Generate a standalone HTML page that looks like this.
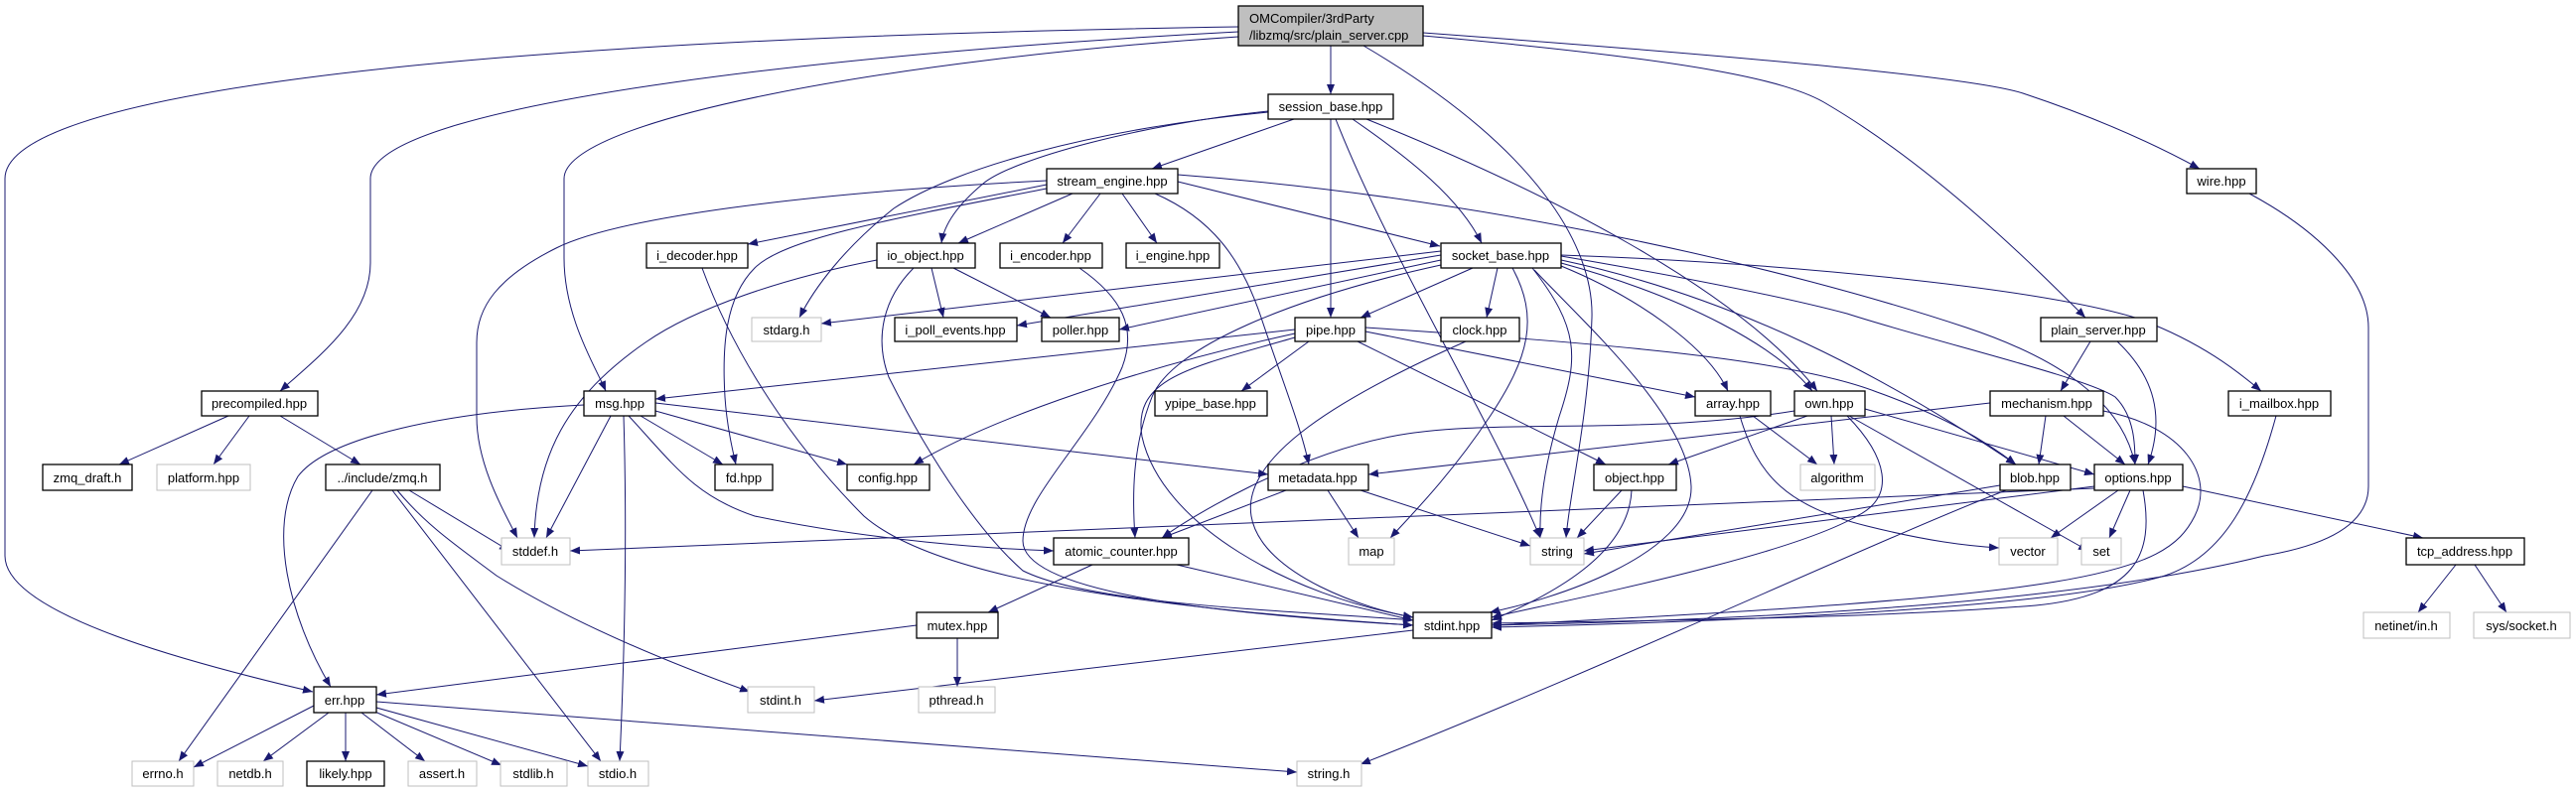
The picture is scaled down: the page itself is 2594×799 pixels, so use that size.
<!DOCTYPE html>
<html><head><meta charset="utf-8"><style>
html,body{margin:0;padding:0;background:#fff;}
svg{display:block;}
text{font-family:"Liberation Sans",Arial,sans-serif;font-size:13px;fill:#000;}
.n{fill:#fff;stroke:#000;stroke-width:1.3;}
.g{fill:#fff;stroke:#bfbfbf;stroke-width:1;}
.e{fill:none;stroke:#191970;stroke-width:1;marker-end:url(#a);}
</style></head><body>
<svg width="2594" height="799" viewBox="0 0 2594 799" xmlns="http://www.w3.org/2000/svg">
<defs><marker id="a" viewBox="0 0 10 10" refX="10" refY="5" markerWidth="10" markerHeight="10" markerUnits="userSpaceOnUse" orient="auto"><path d="M0,1 L10,5 L0,9 z" fill="#191970"/></marker></defs>
<g>
<path class="e" d="M1340,46 L1340,95"/>
<path class="e" d="M1247,27 C400,40 5,100 5,180 L5,560 C5,620 200,670 315,697"/>
<path class="e" d="M1247,32 C900,50 373,100 373,180 L373,265 C373,320 320,360 282,394"/>
<path class="e" d="M1247,37 C900,60 568,120 568,180 L568,260 C568,320 600,370 610,394"/>
<path class="e" d="M1373,46 C1550,150 1605,250 1603,320 C1600,420 1580,500 1577,542"/>
<path class="e" d="M1433,33 C1800,60 2000,80 2040,95 C2100,115 2160,140 2215,170"/>
<path class="e" d="M1433,36 C1700,60 1800,80 1840,105 C1950,170 2050,270 2100,320"/>
<path class="e" d="M1303,120 L1160,170"/>
<path class="e" d="M1277,112 C1150,125 1020,160 990,185 C960,210 950,230 948,245"/>
<path class="e" d="M1277,113 C1100,130 960,170 900,210 C850,250 820,290 805,320"/>
<path class="e" d="M1340,120 L1340,320"/>
<path class="e" d="M1345,120 C1400,260 1500,420 1551,542"/>
<path class="e" d="M1362,120 C1420,160 1470,200 1492,245"/>
<path class="e" d="M1376,120 C1550,190 1750,290 1830,394"/>
<path class="e" d="M1054,182 C800,195 620,220 560,250 C500,280 480,310 480,345 L480,420 C480,470 510,520 521,542"/>
<path class="e" d="M1054,190 C900,220 790,240 760,270 C730,300 727,350 730,400 C732,430 738,455 741,468"/>
<path class="e" d="M1054,186 L753,246"/>
<path class="e" d="M1080,195 L965,245"/>
<path class="e" d="M1108,195 L1070,245"/>
<path class="e" d="M1130,195 L1165,245"/>
<path class="e" d="M1163,195 C1220,220 1250,260 1270,320 C1290,380 1310,430 1318,468"/>
<path class="e" d="M1186,183 L1450,248"/>
<path class="e" d="M1186,176 C1500,200 1800,270 1980,330 C2100,370 2140,420 2150,468"/>
<path class="e" d="M883,262 C790,280 700,310 650,345 C570,400 540,460 538,542"/>
<path class="e" d="M938,270 L950,320"/>
<path class="e" d="M960,270 L1058,320"/>
<path class="e" d="M920,270 C890,300 880,340 895,380 C940,470 990,540 1030,575 C1100,610 1300,615 1423,625"/>
<path class="e" d="M707,270 C740,360 800,450 870,520 C950,590 1200,615 1423,630"/>
<path class="e" d="M1087,270 C1130,300 1145,330 1130,370 C1100,440 1030,500 1030,545 C1030,600 1250,620 1423,630"/>
<path class="e" d="M1451,257 L1024,328"/>
<path class="e" d="M1451,262 L1127,332"/>
<path class="e" d="M1451,253 L827,326"/>
<path class="e" d="M1483,270 L1370,320"/>
<path class="e" d="M1451,267 C1300,300 1180,350 1160,400 C1140,450 1140,500 1143,542"/>
<path class="e" d="M1508,270 L1497,320"/>
<path class="e" d="M1523,270 C1550,320 1540,360 1500,420 C1460,480 1420,520 1400,542"/>
<path class="e" d="M1543,270 C1590,330 1590,360 1570,420 C1555,470 1550,510 1551,542"/>
<path class="e" d="M1545,272 C1600,330 1700,420 1703,490 C1705,560 1560,605 1500,617"/>
<path class="e" d="M1572,268 C1650,300 1720,350 1740,394"/>
<path class="e" d="M1572,265 C1700,300 1790,350 1825,394"/>
<path class="e" d="M1572,262 C1750,300 1900,380 2030,468"/>
<path class="e" d="M1572,258 C1700,280 1800,300 1860,316 C1950,345 2100,380 2130,400 C2150,420 2150,450 2150,468"/>
<path class="e" d="M1572,257 C1800,265 2050,290 2150,320 C2220,345 2260,380 2277,394"/>
<path class="e" d="M1304,332 L660,402"/>
<path class="e" d="M1304,336 C1150,370 1000,420 920,468"/>
<path class="e" d="M1318,344 L1250,394"/>
<path class="e" d="M1304,340 C1200,370 1140,380 1150,440 C1170,530 1300,600 1423,622"/>
<path class="e" d="M1375,334 L1707,400"/>
<path class="e" d="M1367,344 L1617,468"/>
<path class="e" d="M1375,330 C1600,345 1800,360 1890,395 C1960,420 2000,445 2030,468"/>
<path class="e" d="M1476,344 C1350,400 1250,460 1260,520 C1270,580 1380,615 1423,622"/>
<path class="e" d="M588,408 C450,415 330,440 300,480 C270,530 290,620 333,692"/>
<path class="e" d="M615,419 L550,542"/>
<path class="e" d="M628,419 C632,550 628,680 624,767"/>
<path class="e" d="M645,419 L728,468"/>
<path class="e" d="M660,414 L853,468"/>
<path class="e" d="M660,406 L1277,478"/>
<path class="e" d="M633,419 C680,470 700,500 760,520 C880,545 1000,553 1061,555"/>
<path class="e" d="M230,419 L120,468"/>
<path class="e" d="M251,419 L215,468"/>
<path class="e" d="M282,419 L363,468"/>
<path class="e" d="M412,494 L513,555"/>
<path class="e" d="M375,494 L180,767"/>
<path class="e" d="M395,494 L605,767"/>
<path class="e" d="M400,494 C430,530 460,550 500,580 C580,630 680,670 755,697"/>
<path class="e" d="M316,711 L195,773"/>
<path class="e" d="M331,718 L265,767"/>
<path class="e" d="M348,718 L348,767"/>
<path class="e" d="M364,718 L428,767"/>
<path class="e" d="M375,716 L505,771"/>
<path class="e" d="M379,713 L592,772"/>
<path class="e" d="M379,707 L1306,778"/>
<path class="e" d="M923,630 L379,700"/>
<path class="e" d="M964,643 L964,692"/>
<path class="e" d="M1100,569 L995,617"/>
<path class="e" d="M1185,569 L1423,625"/>
<path class="e" d="M1295,494 L1170,542"/>
<path class="e" d="M1337,494 L1368,542"/>
<path class="e" d="M1370,494 L1541,550"/>
<path class="e" d="M1423,635 L820,706"/>
<path class="e" d="M1633,494 L1588,542"/>
<path class="e" d="M1643,494 C1640,560 1560,600 1502,625"/>
<path class="e" d="M1844,419 L1847,468"/>
<path class="e" d="M1820,419 L1680,468"/>
<path class="e" d="M1862,419 L2103,555"/>
<path class="e" d="M1878,412 L2109,478"/>
<path class="e" d="M1807,414 C1650,440 1500,420 1400,440 C1300,460 1200,520 1170,542"/>
<path class="e" d="M1860,419 C1900,460 1910,500 1870,520 C1800,560 1600,600 1502,622"/>
<path class="e" d="M1765,419 L1830,468"/>
<path class="e" d="M1752,419 C1770,480 1800,510 1880,530 C1940,545 1980,550 2013,552"/>
<path class="e" d="M2004,406 L1378,478"/>
<path class="e" d="M2060,419 L2053,468"/>
<path class="e" d="M2078,419 L2140,468"/>
<path class="e" d="M2118,414 C2200,430 2230,480 2210,520 C2180,580 2100,600 1502,630"/>
<path class="e" d="M2105,344 L2075,394"/>
<path class="e" d="M2132,344 C2170,380 2180,420 2163,468"/>
<path class="e" d="M2292,419 C2270,500 2240,560 2180,580 C2080,610 1800,625 1502,632"/>
<path class="e" d="M2265,195 C2330,230 2385,280 2385,330 L2385,490 C2385,530 2340,550 2280,560 C2200,580 2000,620 1502,630"/>
<path class="e" d="M2014,489 L1595,558"/>
<path class="e" d="M2020,494 C1900,540 1600,680 1370,770"/>
<path class="e" d="M2109,492 L574,555"/>
<path class="e" d="M2109,490 L1595,555"/>
<path class="e" d="M2133,494 L2065,542"/>
<path class="e" d="M2145,494 L2124,542"/>
<path class="e" d="M2158,494 C2170,560 2150,600 2050,610 C1900,622 1700,625 1502,628"/>
<path class="e" d="M2198,490 L2440,542"/>
<path class="e" d="M2473,569 L2435,617"/>
<path class="e" d="M2492,569 L2524,617"/>
</g>
<g>
<rect x="1247" y="6" width="186" height="40" fill="#bfbfbf" stroke="#000" stroke-width="1.3"/>
<text x="1258" y="23">OMCompiler/3rdParty</text><text x="1258" y="40">/libzmq/src/plain_server.cpp</text>
</g>
<g>
<rect class="n" x="1277" y="95" width="126" height="25"/><text x="1340" y="112" text-anchor="middle">session_base.hpp</text>
<rect class="n" x="1054" y="170" width="132" height="25"/><text x="1120" y="187" text-anchor="middle">stream_engine.hpp</text>
<rect class="n" x="2202" y="170" width="70" height="25"/><text x="2237" y="187" text-anchor="middle">wire.hpp</text>
<rect class="n" x="651" y="245" width="102" height="25"/><text x="702" y="262" text-anchor="middle">i_decoder.hpp</text>
<rect class="n" x="883" y="245" width="99" height="25"/><text x="932" y="262" text-anchor="middle">io_object.hpp</text>
<rect class="n" x="1007" y="245" width="103" height="25"/><text x="1058" y="262" text-anchor="middle">i_encoder.hpp</text>
<rect class="n" x="1134" y="245" width="94" height="25"/><text x="1181" y="262" text-anchor="middle">i_engine.hpp</text>
<rect class="n" x="1451" y="245" width="121" height="25"/><text x="1511" y="262" text-anchor="middle">socket_base.hpp</text>
<rect class="g" x="757" y="320" width="70" height="24"/><text x="792" y="337" text-anchor="middle">stdarg.h</text>
<rect class="n" x="901" y="320" width="123" height="24"/><text x="962" y="337" text-anchor="middle">i_poll_events.hpp</text>
<rect class="n" x="1049" y="320" width="78" height="24"/><text x="1088" y="337" text-anchor="middle">poller.hpp</text>
<rect class="n" x="1304" y="320" width="71" height="24"/><text x="1340" y="337" text-anchor="middle">pipe.hpp</text>
<rect class="n" x="1451" y="320" width="79" height="24"/><text x="1490" y="337" text-anchor="middle">clock.hpp</text>
<rect class="n" x="2055" y="320" width="117" height="24"/><text x="2113" y="337" text-anchor="middle">plain_server.hpp</text>
<rect class="n" x="203" y="394" width="117" height="25"/><text x="261" y="411" text-anchor="middle">precompiled.hpp</text>
<rect class="n" x="588" y="394" width="72" height="25"/><text x="624" y="411" text-anchor="middle">msg.hpp</text>
<rect class="n" x="1163" y="394" width="113" height="25"/><text x="1219" y="411" text-anchor="middle">ypipe_base.hpp</text>
<rect class="n" x="1707" y="394" width="76" height="25"/><text x="1745" y="411" text-anchor="middle">array.hpp</text>
<rect class="n" x="1807" y="394" width="71" height="25"/><text x="1842" y="411" text-anchor="middle">own.hpp</text>
<rect class="n" x="2004" y="394" width="114" height="25"/><text x="2061" y="411" text-anchor="middle">mechanism.hpp</text>
<rect class="n" x="2244" y="394" width="103" height="25"/><text x="2295" y="411" text-anchor="middle">i_mailbox.hpp</text>
<rect class="n" x="43" y="468" width="90" height="26"/><text x="88" y="486" text-anchor="middle">zmq_draft.h</text>
<rect class="g" x="158" y="468" width="94" height="26"/><text x="205" y="486" text-anchor="middle">platform.hpp</text>
<rect class="n" x="328" y="468" width="115" height="26"/><text x="385" y="486" text-anchor="middle">../include/zmq.h</text>
<rect class="n" x="720" y="468" width="58" height="26"/><text x="749" y="486" text-anchor="middle">fd.hpp</text>
<rect class="n" x="853" y="468" width="83" height="26"/><text x="894" y="486" text-anchor="middle">config.hpp</text>
<rect class="n" x="1277" y="468" width="101" height="26"/><text x="1327" y="486" text-anchor="middle">metadata.hpp</text>
<rect class="n" x="1605" y="468" width="83" height="26"/><text x="1646" y="486" text-anchor="middle">object.hpp</text>
<rect class="g" x="1813" y="468" width="75" height="26"/><text x="1850" y="486" text-anchor="middle">algorithm</text>
<rect class="n" x="2014" y="468" width="71" height="26"/><text x="2049" y="486" text-anchor="middle">blob.hpp</text>
<rect class="n" x="2109" y="468" width="89" height="26"/><text x="2153" y="486" text-anchor="middle">options.hpp</text>
<rect class="g" x="505" y="542" width="69" height="27"/><text x="539" y="560" text-anchor="middle">stddef.h</text>
<rect class="n" x="1061" y="542" width="136" height="27"/><text x="1129" y="560" text-anchor="middle">atomic_counter.hpp</text>
<rect class="g" x="1358" y="542" width="46" height="27"/><text x="1381" y="560" text-anchor="middle">map</text>
<rect class="g" x="1541" y="542" width="54" height="27"/><text x="1568" y="560" text-anchor="middle">string</text>
<rect class="g" x="2013" y="542" width="59" height="27"/><text x="2042" y="560" text-anchor="middle">vector</text>
<rect class="g" x="2096" y="542" width="40" height="27"/><text x="2116" y="560" text-anchor="middle">set</text>
<rect class="n" x="2423" y="542" width="119" height="27"/><text x="2482" y="560" text-anchor="middle">tcp_address.hpp</text>
<rect class="n" x="923" y="617" width="82" height="26"/><text x="964" y="635" text-anchor="middle">mutex.hpp</text>
<rect class="n" x="1423" y="617" width="79" height="26"/><text x="1462" y="635" text-anchor="middle">stdint.hpp</text>
<rect class="g" x="2380" y="617" width="87" height="26"/><text x="2423" y="635" text-anchor="middle">netinet/in.h</text>
<rect class="g" x="2491" y="617" width="97" height="26"/><text x="2539" y="635" text-anchor="middle">sys/socket.h</text>
<rect class="n" x="316" y="692" width="63" height="26"/><text x="347" y="710" text-anchor="middle">err.hpp</text>
<rect class="g" x="753" y="692" width="67" height="26"/><text x="786" y="710" text-anchor="middle">stdint.h</text>
<rect class="g" x="925" y="692" width="77" height="26"/><text x="963" y="710" text-anchor="middle">pthread.h</text>
<rect class="g" x="133" y="767" width="62" height="25"/><text x="164" y="784" text-anchor="middle">errno.h</text>
<rect class="g" x="219" y="767" width="66" height="25"/><text x="252" y="784" text-anchor="middle">netdb.h</text>
<rect class="n" x="309" y="767" width="78" height="25"/><text x="348" y="784" text-anchor="middle">likely.hpp</text>
<rect class="g" x="411" y="767" width="69" height="25"/><text x="445" y="784" text-anchor="middle">assert.h</text>
<rect class="g" x="504" y="767" width="67" height="25"/><text x="537" y="784" text-anchor="middle">stdlib.h</text>
<rect class="g" x="592" y="767" width="61" height="25"/><text x="622" y="784" text-anchor="middle">stdio.h</text>
<rect class="g" x="1306" y="767" width="65" height="25"/><text x="1338" y="784" text-anchor="middle">string.h</text>
</g>
</svg>
</body></html>
